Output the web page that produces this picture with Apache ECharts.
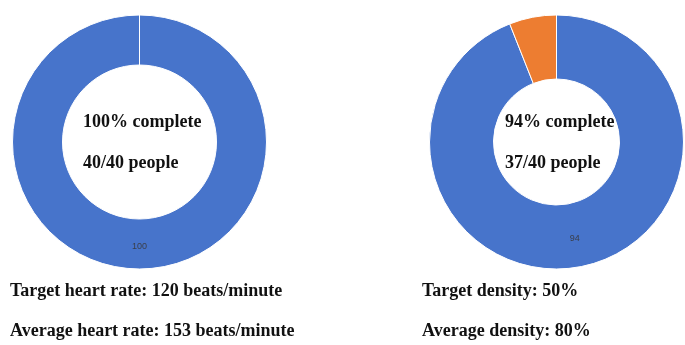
<!DOCTYPE html>
<html>
<head>
<meta charset="utf-8">
<script src="https://cdn.jsdelivr.net/npm/echarts@6/dist/echarts.min.js"></script>
<style>
  html, body { margin: 0; padding: 0; background: #ffffff; }
  #chart { width: 685px; height: 345px; }
</style>
</head>
<body>
<div id="chart"></div>
<script>
// Completion share per study group (percent), remainder shown in orange
const sliceNames = ['Complete', 'Remaining'];
const heartComplete = [100, 0];
const densityComplete = [94, 6];

// People counts shown in the centre of each ring
const heartPeople = [40, 40];
const densityPeople = [37, 40];

// Summary lines under each ring
const heartNotes = ['Target heart rate: 120 beats/minute', 'Average heart rate: 153 beats/minute'];
const densityNotes = ['Target density: 50%', 'Average density: 80%'];

const BLUE = '#4774CB';
const ORANGE = '#ED7D31';
const SERIF = '"Liberation Serif", "Times New Roman", serif';

function ringData(values) {
  return values.map((v, i) => ({
    name: sliceNames[i],
    value: v,
    itemStyle: { color: i === 0 ? BLUE : ORANGE },
    label: { show: i === 0 && v > 0 }
  }));
}

function ring(values, cx, inner) {
  return {
    type: 'pie',
    center: [cx, 142],
    radius: [inner, 127],
    startAngle: 90,
    clockwise: true,
    avoidLabelOverlap: false,
    animation: false,
    silent: true,
    itemStyle: { borderColor: '#ffffff', borderWidth: 1 },
    label: {
      position: 'inside',
      formatter: '{c}',
      color: '#3a3f4a',
      fontSize: 9,
      fontFamily: 'Arial, "Liberation Sans", sans-serif'
    },
    labelLine: { show: false },
    data: ringData(values)
  };
}

function text(x, y, s) {
  return {
    type: 'text',
    left: x,
    top: y,
    style: { text: s, font: 'bold 18px ' + SERIF, fill: '#111111' }
  };
}

const chart = echarts.init(document.getElementById('chart'), null, { renderer: 'canvas' });
chart.setOption({
  backgroundColor: '#ffffff',
  series: [
    ring(heartComplete, 139.5, 77),
    ring(densityComplete, 556.5, 63)
  ],
  graphic: [
    text(83, 113, heartComplete[0] + '% complete'),
    text(83, 154, heartPeople[0] + '/' + heartPeople[1] + ' people'),
    text(505, 113, densityComplete[0] + '% complete'),
    text(505, 154, densityPeople[0] + '/' + densityPeople[1] + ' people'),
    text(10, 282, heartNotes[0]),
    text(10, 322, heartNotes[1]),
    text(422, 282, densityNotes[0]),
    text(422, 322, densityNotes[1])
  ]
});
</script>
</body>
</html>
